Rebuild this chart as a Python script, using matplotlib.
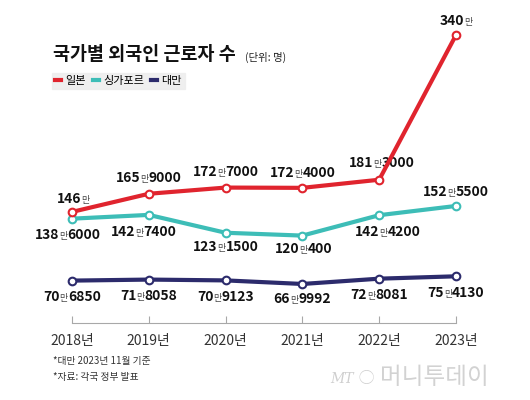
import matplotlib
matplotlib.use("Agg")
import matplotlib.pyplot as plt
from matplotlib.lines import Line2D
from matplotlib.offsetbox import TextArea, HPacker, AnnotationBbox

plt.rcParams['font.family'] = ['Noto Sans CJK KR', 'DejaVu Sans']

# data (persons)
years = ["2018년", "2019년", "2020년", "2021년", "2022년", "2023년"]
japan = [1460000, 1659000, 1727000, 1724000, 1813000, 3400000]
singapore = [1386000, 1427400, 1231500, 1200400, 1424200, 1525500]
taiwan = [706850, 718058, 709123, 669992, 728081, 754130]

series_names = ["일본", "싱가포르", "대만"]
colors = ["#e0242e", "#3dbdb7", "#2c2b6c"]

# label offsets in points (dx, dy) per point
japan_off = [(1, 9), (0, 11), (0, 11), (0, 11), (2, 12), (0, 10)]
singapore_off = [(-3, -12), (-4, -12), (0, -10), (1, -10), (6, -12), (0, 10)]
taiwan_off = [(0, -12), (0, -12), (0, -12), (0, -11), (0, -12), (0, -12)]

NUM_FONT = ['Liberation Sans Narrow', 'Noto Sans CJK KR', 'DejaVu Sans']
W, H = 530, 400


def fpos(x, y):
    return x / W, 1 - y / H


def man_label(ax, i, v, off):
    man = v // 10000
    rest = v % 10000
    num = dict(fontsize=10, fontweight='bold', family=NUM_FONT, color='#111111')
    parts = [TextArea(str(man), textprops=num),
             TextArea("만", textprops=dict(fontsize=6.5, family='Noto Sans CJK KR',
                                          color='#444444'))]
    if rest:
        parts.append(TextArea(str(rest), textprops=num))
    box = HPacker(children=parts, align='baseline', pad=0, sep=0)
    ab = AnnotationBbox(box, (i, v / 10000), xybox=off, xycoords='data',
                        boxcoords='offset points', frameon=False,
                        box_alignment=(0.5, 0.5), annotation_clip=False)
    ax.add_artist(ab)


fig = plt.figure(figsize=(5.3, 4.0), dpi=100)
ax = fig.add_axes([72 / W, 1 - 323 / H, 384 / W, 288 / H])

xs = list(range(len(years)))
for vals, col, offs, z in [(taiwan, colors[2], taiwan_off, 3),
                           (singapore, colors[1], singapore_off, 4),
                           (japan, colors[0], japan_off, 5)]:
    ax.plot(xs, [v / 10000 for v in vals], color=col, lw=3, marker='o',
            markersize=5.5, markerfacecolor='white', markeredgecolor=col,
            markeredgewidth=1.5, clip_on=False, zorder=z, solid_capstyle='round')
    for i, v in enumerate(vals):
        man_label(ax, i, v, offs[i])

ax.set_xlim(0, 5)
ax.set_ylim(24.2, 340)
for s in ['top', 'left', 'right']:
    ax.spines[s].set_visible(False)
ax.spines['bottom'].set_color('#a8a8a8')
ax.spines['bottom'].set_linewidth(0.8)
ax.set_yticks([])
ax.set_xticks(xs)
ax.set_xticklabels(years, family=['Liberation Sans Narrow', 'Noto Sans CJK KR'],
                   fontsize=10, color='#333333')
ax.tick_params(axis='x', direction='in', length=5, width=0.8, color='#a8a8a8', pad=8)
ax.patch.set_visible(False)

# title
fig.text(*fpos(53, 55), "국가별 외국인 근로자 수", fontsize=13.3, fontweight='bold',
         color='#111111', va='center', ha='left')
fig.text(*fpos(245, 57), "(단위: 명)", fontsize=7.5, color='#222222', va='center', ha='left')

# legend
handles = [Line2D([], [], color=c, lw=3) for c in colors]
fig.legend(handles, series_names, loc='upper left', bbox_to_anchor=fpos(52, 73),
           ncol=3, frameon=True, facecolor='#ececec', edgecolor='#ececec',
           fontsize=8, handlelength=0.6, handletextpad=0.35, columnspacing=0.6,
           borderpad=0.25, borderaxespad=0, fancybox=False)

# notes
fig.text(*fpos(53, 361), "*대만 2023년 11월 기준", fontsize=7, color='#333333', va='center')
fig.text(*fpos(53, 377), "*자료: 각국 정부 발표", fontsize=7, color='#333333', va='center')

# watermark
fig.text(*fpos(330, 379), "MT", fontsize=10, fontstyle='italic', color='#cfcfcf',
         va='center', family='DejaVu Serif')
fig.text(*fpos(358, 379), "◯", fontsize=11, color='#cfcfcf', va='center')
fig.text(*fpos(380, 378), "머니투데이", fontsize=17, color='#d2d2d2', va='center')

fig.savefig("out.png", dpi=100)
